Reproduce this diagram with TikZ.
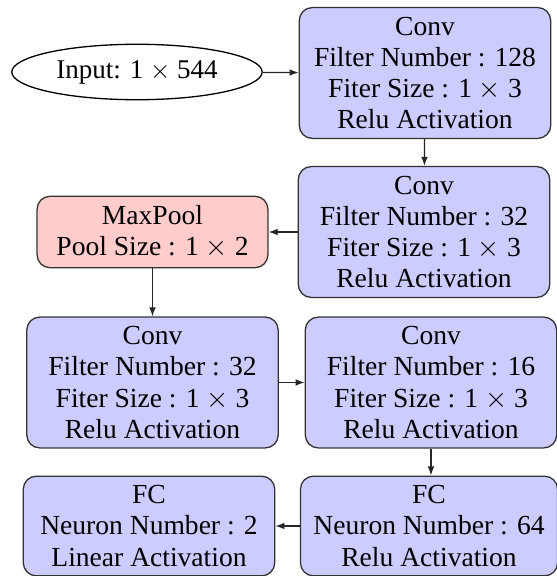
\documentclass[tikz,border=0pt]{standalone}
\usepackage{fontspec}
\setmainfont{Liberation Serif}
\usetikzlibrary{shapes.geometric,arrows.meta}
\begin{document}
\begin{tikzpicture}[x=0.3846pt,y=-0.3846pt,
  every node/.style={font=\fontsize{10.6pt}{12pt}\selectfont},
  box/.style={draw=black!80,rounded corners=5pt,align=center,fill=blue!20,line width=0.5pt,inner xsep=5pt,inner ysep=3.6pt,minimum width=96.7pt},
  pool/.style={box,fill=red!20,minimum width=88.8pt},
  inp/.style={draw,ellipse,line width=0.5pt,inner sep=3pt,font=\fontsize{10.4pt}{12pt}\selectfont},
  link/.style={-{Latex[length=3.5pt,width=2.6pt]},line width=0.5pt,black!85}]
\useasboundingbox (0,0) rectangle (556,576);
\node[inp] (in) at (137,72) {Input: 1 $\times$ 544};
\node[box] (c1) at (425,73) {Conv\\Filter Number : 128\\Fiter Size : 1 $\times$ 3\\Relu Activation};
\node[box] (c2) at (424,232) {Conv\\Filter Number : 32\\Fiter Size : 1 $\times$ 3\\Relu Activation};
\node[pool] (mp) at (152.5,232) {MaxPool\\Pool Size : 1 $\times$ 2};
\node[box] (c3) at (152.5,382.5) {Conv\\Filter Number : 32\\Fiter Size : 1 $\times$ 3\\Relu Activation};
\node[box] (c4) at (431,382.5) {Conv\\Filter Number : 16\\Fiter Size : 1 $\times$ 3\\Relu Activation};
\node[box] (f64) at (429,526) {FC\\Neuron Number : 64\\Relu Activation};
\node[box] (f2) at (149,526) {FC\\Neuron Number : 2\\Linear Activation};
\draw[link] (in) -- (c1);
\draw[link] (c1) -- (c2);
\draw[link] (c2) -- (mp);
\draw[link] (mp) -- (c3);
\draw[link] (c3) -- (c4);
\draw[link] (c4.south) -- (c4.south |- f64.north);
\draw[link] (f64) -- (f2);
\end{tikzpicture}
\end{document}
